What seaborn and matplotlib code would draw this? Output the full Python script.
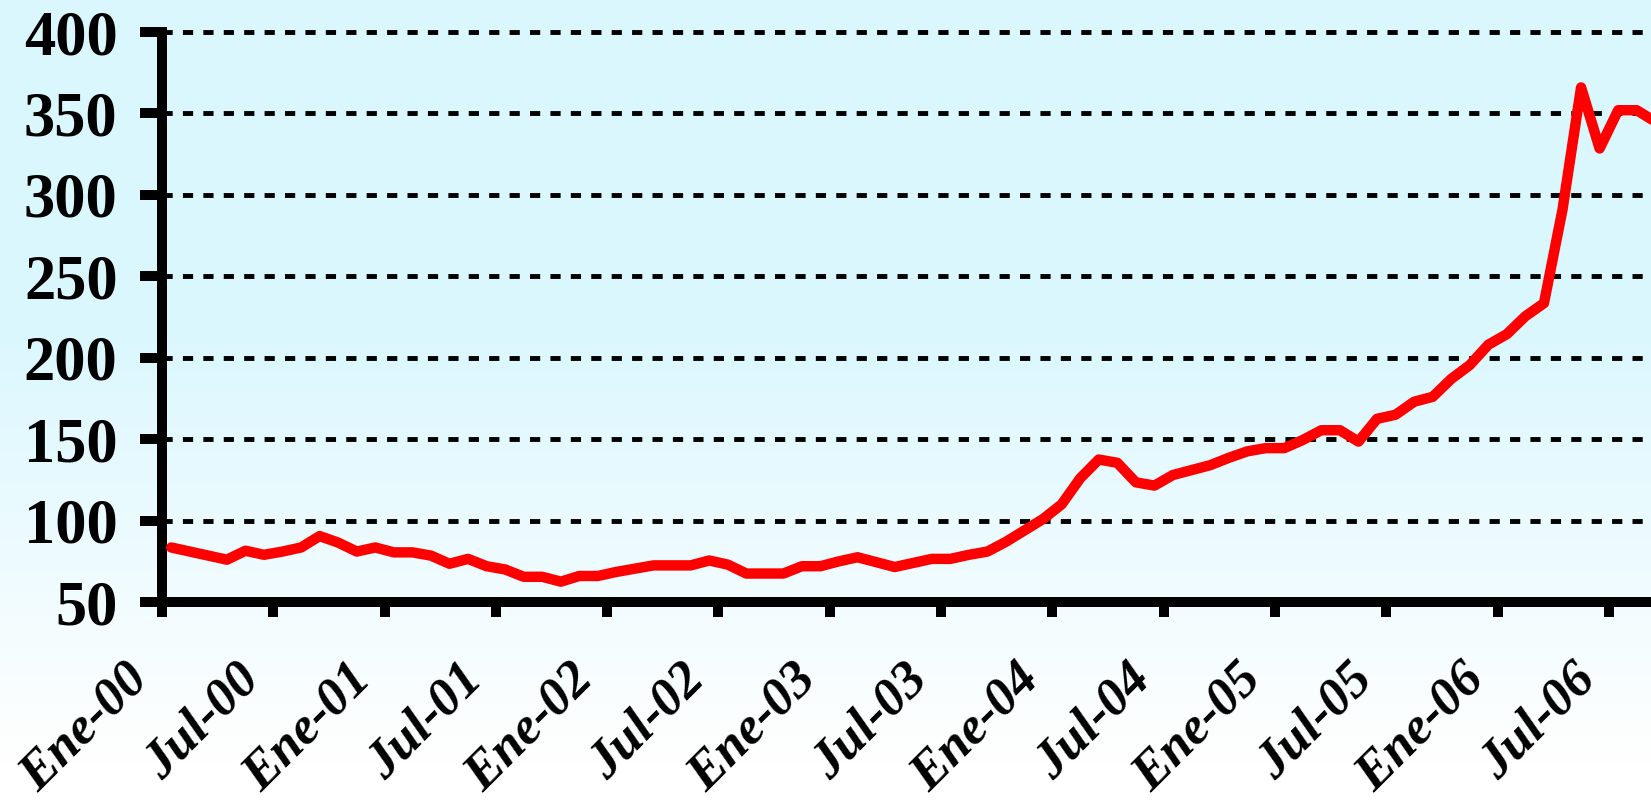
import numpy as np
import matplotlib
matplotlib.use("Agg")
import matplotlib.pyplot as plt
import matplotlib.transforms as mtransforms
import seaborn as sns

# monthly index, Ene-00 .. Sep-06
values = [83.5, 81, 78.5, 76, 81.5, 79, 81, 83.5, 90.5, 86.5, 81, 83.5,
          80.5, 80.5, 78.5, 73.5, 76.5, 72, 70, 65.5, 65.5, 62.5, 66, 66,
          68.5, 70.5, 72.5, 72.5, 72.5, 75.5, 73, 67.5, 67.5, 67.5, 72, 72,
          75, 77.5, 74.5, 71.5, 74, 76.5, 76.5, 79, 81, 87, 94, 101,
          110, 126, 137.5, 135.5, 123.5, 121.5, 128, 131, 134, 138.5, 142.5, 144.5,
          144.5, 149.5, 155.5, 155.5, 148.5, 162.5, 165, 173, 176, 187, 195.5, 208,
          214.5, 225.5, 233.5, 291, 366, 328.5, 352, 352, 345]
months = list(range(len(values)))

tick_labels = ["Ene-00", "Jul-00", "Ene-01", "Jul-01", "Ene-02", "Jul-02", "Ene-03",
               "Jul-03", "Ene-04", "Jul-04", "Ene-05", "Jul-05", "Ene-06", "Jul-06"]
y_ticks = [50, 100, 150, 200, 250, 300, 350, 400]

sns.set_style("white")
plt.rcParams['font.family'] = ['Liberation Serif', 'DejaVu Serif']
plt.rcParams['font.weight'] = 'bold'
plt.rcParams['text.color'] = 'black'
plt.rcParams['xtick.color'] = 'black'
plt.rcParams['ytick.color'] = 'black'

fig = plt.figure(figsize=(16.51, 8.01), dpi=100)

# background gradient (light cyan -> white)
bg = fig.add_axes([0, 0, 1, 1], zorder=0)
t = np.linspace(0, 1, 400)[:, None]
fade = np.clip((t - 0.4) / 0.55, 0, 1)
top = np.array([0.855, 0.969, 0.996])
grad = top * (1 - fade) + np.ones(3) * fade
bg.imshow(grad[:, None, :], aspect='auto', extent=[0, 1, 0, 1])
bg.axis('off')

ax = fig.add_axes([0.0981, 0.2484, 0.9019, 0.7116], zorder=1)
ax.set_facecolor('none')

for y in y_ticks[1:]:
    ax.axhline(y, color='black', lw=3.5, ls=(0, (2.1, 2.1)), clip_on=False, zorder=1)

sns.lineplot(x=months, y=values, color='#ff0000', linewidth=7.5, ax=ax, zorder=3)

ax.set_xlim(-0.5, 79.77)
ax.set_ylim(50, 400)
ax.set_xlabel('')
ax.set_ylabel('')

for s in ['top', 'right']:
    ax.spines[s].set_visible(False)
for s in ['left', 'bottom']:
    ax.spines[s].set_linewidth(7.2)
    ax.spines[s].set_color('black')

ax.set_yticks(y_ticks)
ax.set_yticklabels([str(v) for v in y_ticks], fontsize=45, fontweight='bold', color='black')
ax.set_xticks([-0.5 + 6 * k for k in range(len(tick_labels))])
ax.set_xticklabels(tick_labels, fontsize=38, fontweight='bold', fontstyle='italic',
                   rotation=45, ha='right', va='top', color='black')
ax.tick_params(axis='y', length=16, width=7.2, pad=16, color='black', left=True)
ax.tick_params(axis='x', length=11, width=7.2, pad=27, color='black', bottom=True)

shift = mtransforms.ScaledTranslation(-4 / 100, 0, fig.dpi_scale_trans)
for lbl in ax.get_xticklabels():
    lbl.set_transform(lbl.get_transform() + shift)

fig.savefig('out.png', dpi=100)
